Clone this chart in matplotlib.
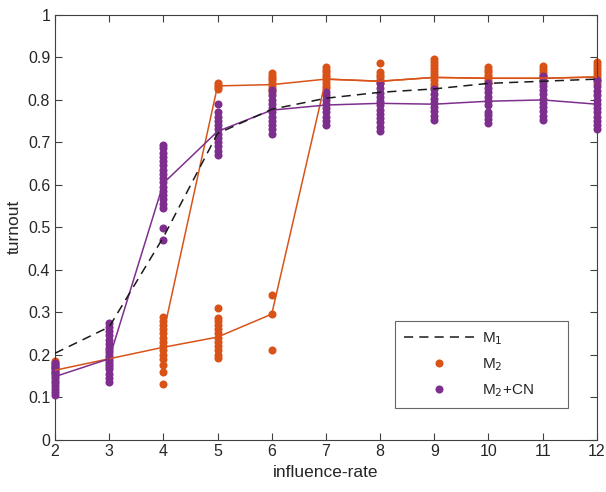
import numpy as np
import matplotlib
matplotlib.use("Agg")
import matplotlib.pyplot as plt

plt.rcParams['font.family'] = ['Liberation Sans', 'DejaVu Sans']

# influence-rate values
rates = [2, 3, 4, 5, 6, 7, 8, 9, 10, 11, 12]

# M1 mean turnout (dashed line)
m1_mean = [0.203, 0.265, 0.476, 0.72, 0.777, 0.803, 0.817, 0.825, 0.838, 0.843, 0.848]

# M2 two branches (lines)
m2_low_x = [2, 3, 4, 5, 6, 7, 8, 9, 10, 11, 12]
m2_low = [0.163, 0.19, 0.217, 0.241, 0.295, 0.848, 0.843, 0.852, 0.85, 0.85, 0.853]
m2_high_x = [4, 5, 6, 7, 8, 9, 10, 11, 12]
m2_high = [0.25, 0.832, 0.835, 0.848, 0.843, 0.852, 0.85, 0.85, 0.853]

# M2+CN mean line
cn_mean = [0.148, 0.19, 0.603, 0.725, 0.775, 0.787, 0.791, 0.789, 0.796, 0.799, 0.789]

# individual runs, M2
m2_runs = {
    2: [0.155, 0.16, 0.165, 0.17, 0.175, 0.18, 0.185],
    3: [0.17, 0.18, 0.19, 0.2, 0.21],
    4: [0.13, 0.16, 0.175, 0.19, 0.2, 0.21, 0.22, 0.23, 0.24, 0.25, 0.26, 0.27, 0.28, 0.288],
    5: [0.192, 0.2, 0.21, 0.22, 0.23, 0.24, 0.25, 0.26, 0.27, 0.28, 0.286, 0.309,
        0.825, 0.83, 0.835, 0.84],
    6: [0.21, 0.295, 0.34, 0.818, 0.825, 0.832, 0.838, 0.845, 0.85, 0.856, 0.862],
    7: [0.826, 0.832, 0.838, 0.845, 0.852, 0.858, 0.865, 0.87, 0.876],
    8: [0.84, 0.846, 0.852, 0.858, 0.865, 0.886],
    9: [0.83, 0.837, 0.845, 0.852, 0.86, 0.868, 0.875, 0.882, 0.889, 0.895],
    10: [0.84, 0.846, 0.852, 0.858, 0.864, 0.87, 0.876],
    11: [0.839, 0.845, 0.852, 0.858, 0.865, 0.872, 0.879],
    12: [0.839, 0.846, 0.853, 0.86, 0.867, 0.874, 0.881, 0.888],
}

# individual runs, M2+CN
cn_runs = {
    2: [0.105, 0.112, 0.12, 0.126, 0.132, 0.138, 0.144, 0.15, 0.156, 0.162, 0.168, 0.174, 0.18],
    3: [0.135, 0.145, 0.155, 0.165, 0.175, 0.185, 0.195, 0.205, 0.215, 0.225,
        0.235, 0.245, 0.255, 0.265, 0.274],
    4: [0.47, 0.497, 0.545, 0.555, 0.565, 0.575, 0.585, 0.595, 0.605, 0.615,
        0.625, 0.635, 0.645, 0.655, 0.665, 0.675, 0.685, 0.693],
    5: [0.67, 0.68, 0.69, 0.70, 0.71, 0.72, 0.73, 0.74, 0.75, 0.76, 0.77, 0.79],
    6: [0.72, 0.73, 0.74, 0.75, 0.76, 0.77, 0.78, 0.79, 0.8, 0.81, 0.822],
    7: [0.74, 0.75, 0.76, 0.77, 0.78, 0.79, 0.8, 0.81, 0.818],
    8: [0.726, 0.736, 0.746, 0.756, 0.766, 0.776, 0.786, 0.796, 0.806, 0.816, 0.828, 0.839],
    9: [0.752, 0.762, 0.772, 0.782, 0.792, 0.802, 0.812, 0.825],
    10: [0.745, 0.755, 0.763, 0.771, 0.787, 0.797, 0.807, 0.817, 0.828, 0.839],
    11: [0.752, 0.762, 0.772, 0.782, 0.792, 0.802, 0.812, 0.822, 0.832, 0.843, 0.855],
    12: [0.73, 0.74, 0.75, 0.76, 0.77, 0.78, 0.79, 0.8, 0.81, 0.82, 0.832, 0.845],
}

orange = '#D95319'
purple = '#7E2F8E'
axcol = '#404040'

fig = plt.figure(figsize=(6.06, 4.92), dpi=100)
ax = fig.add_axes([0.0908, 0.1067, 0.894, 0.8638])

for r in rates:
    ax.plot([r] * len(m2_runs[r]), m2_runs[r], 'o', color=orange, ms=5.8, mec='none',
            zorder=2, clip_on=False)
for r in rates:
    ax.plot([r] * len(cn_runs[r]), cn_runs[r], 'o', color=purple, ms=5.8, mec='none',
            zorder=3, clip_on=False)

ax.plot(m2_low_x, m2_low, '-', color=orange, lw=1.1, zorder=4)
ax.plot(m2_high_x, m2_high, '-', color=orange, lw=1.1, zorder=4)
ax.plot(rates, cn_mean, '-', color=purple, lw=1.1, zorder=4)
ax.plot(rates, m1_mean, '--', color='#1a1a1a', lw=1.1, dashes=(6, 4), zorder=5)

# legend handles
h1, = ax.plot([], [], '--', color='#1a1a1a', lw=1.1, dashes=(6, 4))
h2, = ax.plot([], [], 'o', color=orange, ms=5.8, mec='none')
h3, = ax.plot([], [], 'o', color=purple, ms=5.8, mec='none')
leg = ax.legend([h1, h2, h3], ['M$_1$', 'M$_2$', 'M$_2$+CN'], loc='lower left',
                bbox_to_anchor=(0.627, 0.074, 0.319, 0.2), mode='expand', borderaxespad=0,
                fontsize=11, frameon=True, fancybox=False, edgecolor=axcol,
                handlelength=4.6, handletextpad=0.5, borderpad=0.6, labelspacing=0.6)
leg.get_frame().set_linewidth(0.8)
for t in leg.get_texts():
    t.set_color('#262626')
leg.get_frame().set_boxstyle('square', pad=0)

ax.set_xlim(2, 12)
ax.set_ylim(0, 1)
ax.set_xticks(range(2, 13))
ax.set_yticks(np.arange(0, 1.01, 0.1))
ax.set_yticklabels(['0', '0.1', '0.2', '0.3', '0.4', '0.5', '0.6', '0.7', '0.8', '0.9', '1'])
ax.tick_params(direction='in', top=True, right=True, labelsize=11.5, labelcolor='#262626',
               color=axcol, length=5, width=0.8)
for s in ax.spines.values():
    s.set_color(axcol)
    s.set_linewidth(0.8)
ax.set_xlabel('influence-rate', fontsize=12.5, color='#262626')
ax.set_ylabel('turnout', fontsize=12.5, color='#262626')

fig.savefig('out.png', dpi=100)
